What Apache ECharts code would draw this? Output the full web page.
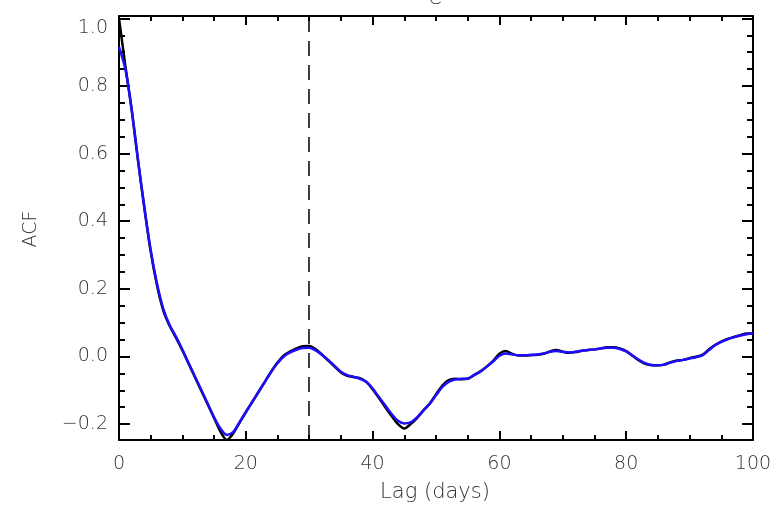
<!DOCTYPE html>
<html>
<head>
<meta charset="utf-8">
<script src="https://cdn.jsdelivr.net/npm/echarts@6/dist/echarts.min.js"></script>
<style>html,body{margin:0;padding:0;background:#fff;}#c{width:776px;height:511px;}</style>
</head>
<body>
<div id="c"></div>
<script>
const lags = [0,1,2,3,4,5,6,7,8,9,10,11,12,13,14,15,16,17,18,19,20,21,22,23,24,25,26,27,28,29,30,31,32,33,34,35,36,37,38,39,40,41,42,43,44,45,46,47,48,49,50,51,52,53,54,55,56,57,58,59,60,61,62,63,64,65,66,67,68,69,70,71,72,73,74,75,76,77,78,79,80,81,82,83,84,85,86,87,88,89,90,91,92,93,94,95,96,97,98,99,100];
const acfBlack = [1.0,0.86,0.73,0.58,0.44,0.31,0.21,0.135,0.09,0.055,0.018,-0.022,-0.062,-0.102,-0.142,-0.182,-0.222,-0.247,-0.228,-0.196,-0.165,-0.135,-0.105,-0.075,-0.045,-0.018,0.003,0.015,0.024,0.03,0.031,0.022,0.006,-0.012,-0.03,-0.047,-0.057,-0.061,-0.064,-0.075,-0.097,-0.123,-0.15,-0.176,-0.2,-0.213,-0.2,-0.182,-0.16,-0.14,-0.112,-0.086,-0.07,-0.066,-0.067,-0.066,-0.055,-0.044,-0.03,-0.013,0.008,0.016,0.008,0.003,0.003,0.004,0.005,0.008,0.015,0.019,0.014,0.011,0.013,0.017,0.019,0.021,0.024,0.027,0.027,0.024,0.016,0.002,-0.012,-0.022,-0.026,-0.026,-0.024,-0.017,-0.012,-0.01,-0.005,-0.001,0.005,0.02,0.034,0.044,0.052,0.058,0.063,0.068,0.068];
const acfBlue = [0.916,0.85,0.73,0.58,0.44,0.315,0.215,0.14,0.092,0.058,0.02,-0.02,-0.06,-0.1,-0.14,-0.18,-0.213,-0.232,-0.224,-0.195,-0.165,-0.135,-0.105,-0.075,-0.045,-0.02,0.0,0.012,0.02,0.025,0.026,0.018,0.005,-0.01,-0.028,-0.045,-0.055,-0.06,-0.066,-0.075,-0.095,-0.12,-0.145,-0.17,-0.19,-0.198,-0.195,-0.18,-0.16,-0.14,-0.115,-0.09,-0.075,-0.068,-0.066,-0.065,-0.055,-0.045,-0.03,-0.015,0.002,0.009,0.006,0.004,0.004,0.005,0.006,0.009,0.014,0.016,0.014,0.012,0.014,0.017,0.019,0.021,0.024,0.026,0.026,0.022,0.015,0.003,-0.01,-0.02,-0.025,-0.026,-0.024,-0.018,-0.013,-0.01,-0.006,-0.002,0.003,0.018,0.033,0.043,0.051,0.057,0.062,0.066,0.068];
const yMajorTicks = [-0.2,0.0,0.2,0.4,0.6,0.8,1.0];
const yMinorTicks = [-0.2,-0.15,-0.1,-0.05,0.0,0.05,0.1,0.15,0.2,0.25,0.3,0.35,0.4,0.45,0.5,0.55,0.6,0.65,0.7,0.75,0.8,0.85,0.9,0.95,1.0];
const dashLag = 30;
const xLabel = 'Lag (days)';
const yLabel = 'ACF';
const titleText = 'C';

const FONT = 'DejaVu Sans';
const TXT = '#333';
const yMin = -0.247, yMax = 1.007;

const chart = echarts.init(document.getElementById('c'), null, {renderer: 'canvas'});
const pair = (ys) => lags.map((l, i) => [l, ys[i]]);

function yAxisDef(pos, major, showLabel) {
  return {
    type: 'value', position: pos, min: yMin, max: yMax,
    axisLine: {show: true, onZero: false, lineStyle: {color: '#000', width: 2}},
    axisTick: {show: true, inside: true, length: major ? 11 : 6, customValues: major ? yMajorTicks : yMinorTicks, lineStyle: {color: '#000', width: 2}},
    axisLabel: {show: showLabel, customValues: yMajorTicks, margin: 11, fontFamily: FONT, fontSize: 19, color: TXT, fontWeight: 200,
      verticalAlignMaxLabel: 'top',
      formatter: v => v.toFixed(1).replace('-', '\u2212')},
    splitLine: {show: false}
  };
}
function xAxisDef(pos, showLabel) {
  return {
    type: 'value', position: pos, min: 0, max: 100, interval: 20,
    axisLine: {show: true, onZero: false, lineStyle: {color: '#000', width: 2}},
    axisTick: {show: true, inside: true, length: 9, lineStyle: {color: '#000', width: 2}},
    minorTick: {show: true, splitNumber: 4, length: 5, lineStyle: {color: '#000', width: 2}},
    axisLabel: {show: showLabel, margin: 15, fontFamily: FONT, fontSize: 19, color: TXT, fontWeight: 200},
    splitLine: {show: false}, minorSplitLine: {show: false}
  };
}

chart.setOption({
  animation: false,
  backgroundColor: '#fff',
  grid: {left: 119, right: 23, top: 16, bottom: 71, containLabel: false},
  xAxis: [xAxisDef('bottom', true), xAxisDef('top', false)],
  yAxis: [yAxisDef('left', true, true), yAxisDef('left', false, false), yAxisDef('right', true, false), yAxisDef('right', false, false)],
  series: [
    {type: 'line', name: 'black', data: pair(acfBlack), showSymbol: false, smooth: 0.3,
      lineStyle: {color: '#000', width: 2.5}, z: 3,
      markLine: {silent: true, symbol: ['none', 'none'], label: {show: false},
        lineStyle: {color: '#000', width: 1.5, type: [15, 9]}, data: [{xAxis: dashLag}]}},
    {type: 'line', name: 'blue', data: pair(acfBlue), showSymbol: false, smooth: 0.3,
      lineStyle: {color: '#1e0cff', width: 2.5}, z: 4}
  ],
  graphic: [
    {type: 'text', x: 435, y: 493, style: {text: xLabel, font: '200 21px "DejaVu Sans"', fill: TXT, align: 'center', verticalAlign: 'middle'}},
    {type: 'text', x: 31, y: 229, rotation: Math.PI / 2, style: {text: yLabel, font: '200 19px "DejaVu Sans"', fill: TXT, align: 'center', verticalAlign: 'middle'}},
    {type: 'text', x: 435, y: 9, style: {text: titleText, font: '200 19px "DejaVu Sans"', fill: TXT, align: 'center', verticalAlign: 'bottom'}}
  ]
});
</script>
</body>
</html>
